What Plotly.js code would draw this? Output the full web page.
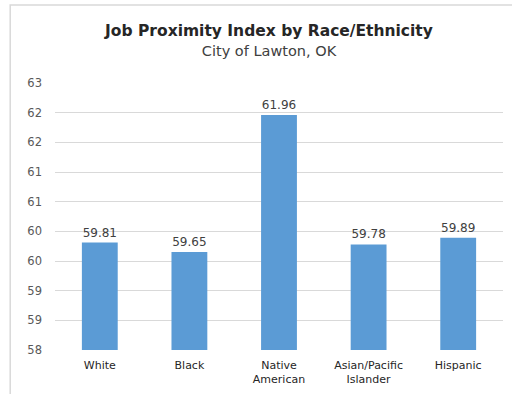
<!DOCTYPE html>
<html><head><meta charset="utf-8">
<script src="https://cdn.plot.ly/plotly-3.0.1.min.js"></script>
<style>html,body{margin:0;padding:0;background:#fff;}#chart{width:512px;height:394px;}</style>
</head><body><div id="chart"></div>
<script>
const categories = ["White", "Black", "Native<br>American", "Asian/Pacific<br>Islander", "Hispanic"];
const values = [59.81, 59.65, 61.96, 59.78, 59.89];
const valueLabels = ["59.81", "59.65", "61.96", "59.78", "59.89"];
const tickValues = [58, 58.5, 59, 59.5, 60, 60.5, 61, 61.5, 62, 62.5];
const tickLabels = ["58", "59", "59", "60", "60", "61", "61", "62", "62", "63"];

const font = "'DejaVu Sans', sans-serif";
const trace = {
  type: "bar", x: categories, y: values, text: valueLabels,
  textposition: "outside", texttemplate: "%{text}", cliponaxis: false,
  textfont: {family: font, size: 12, color: "#404040"},
  marker: {color: "#5B9BD5"}, width: 0.4, hoverinfo: "none"
};
const layout = {
  width: 512, height: 394,
  margin: {l: 55, r: 9, t: 83, b: 44},
  paper_bgcolor: "#fff", plot_bgcolor: "#fff",
  showlegend: false,
  title: {
    text: "<b>Job Proximity Index by Race/Ethnicity</b><br><span style='font-size:14.5px;color:#404040'>City of Lawton, OK</span>",
    font: {family: font, size: 15.5, color: "#262626"},
    x: 269/512, xanchor: "center", y: 0.908, yanchor: "middle"
  },
  xaxis: {
    tickfont: {family: font, size: 11, color: "#262626"},
    showline: false, ticks: "", fixedrange: true, ticklabelstandoff: 7
  },
  yaxis: {
    range: [58, 62.5], tickvals: tickValues, ticktext: tickLabels,
    tickfont: {family: font, size: 11.5, color: "#595959"},
    gridcolor: "#d9d9d9", gridwidth: 1, zeroline: false, showline: false,
    ticks: "", ticklabelstandoff: 12
  },
  shapes: [{
    type: "rect", xref: "paper", yref: "paper",
    x0: -0.1, x1: 1.1, y0: -0.2, y1: 1.292,
    line: {color: "#d9d9d9", width: 1.5}, fillcolor: "rgba(0,0,0,0)", layer: "below"
  }]
};
Plotly.newPlot("chart", [trace], layout, {displayModeBar: false, staticPlot: true});
</script></body></html>
